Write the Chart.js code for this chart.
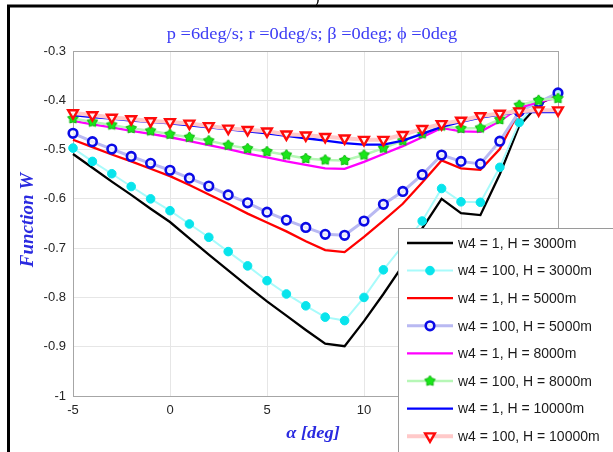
<!DOCTYPE html>
<html>
<head>
<meta charset="utf-8">
<script src="https://cdn.jsdelivr.net/npm/chart.js@4.4.1/dist/chart.umd.min.js"></script>
<style>
  html, body { margin: 0; padding: 0; background: #fff; overflow: hidden; }
  #wrap { position: relative; width: 613px; height: 452px; }
</style>
</head>
<body>
<div id="wrap"><canvas id="chart" width="613" height="452"></canvas></div>
<script>
// angle of attack, deg
const alpha = [-5, -4, -3, -2, -1, 0, 1, 2, 3, 4, 5, 6, 7, 8, 9, 10, 11, 12, 13, 14, 15, 16, 17, 18, 19, 20];

const w1H3000 = [-0.509, -0.537, -0.565, -0.592, -0.620, -0.647, -0.680, -0.713, -0.745, -0.777, -0.808, -0.837, -0.866, -0.894, -0.899,
    -0.848, -0.793, -0.735, -0.660, -0.600, -0.629, -0.633, -0.550, -0.452, -0.408, -0.388];
const w100H3000 = [-0.497, -0.524, -0.549, -0.575, -0.600, -0.624, -0.651, -0.678, -0.707, -0.736, -0.766, -0.793, -0.817, -0.840, -0.847,
    -0.800, -0.744, -0.695, -0.645, -0.579, -0.606, -0.607, -0.536, -0.445, -0.403, -0.386];
const w1H5000 = [-0.480, -0.495, -0.510, -0.524, -0.539, -0.554, -0.572, -0.591, -0.610, -0.630, -0.648, -0.666, -0.686, -0.704, -0.708,
    -0.677, -0.644, -0.610, -0.567, -0.522, -0.538, -0.541, -0.499, -0.421, -0.402, -0.393];
const w100H5000 = [-0.467, -0.484, -0.499, -0.514, -0.528, -0.542, -0.558, -0.574, -0.592, -0.608, -0.627, -0.643, -0.658, -0.672, -0.674,
    -0.645, -0.611, -0.585, -0.551, -0.511, -0.524, -0.529, -0.483, -0.423, -0.404, -0.385];
const w1H8000 = [-0.442, -0.449, -0.455, -0.462, -0.468, -0.475, -0.483, -0.491, -0.499, -0.508, -0.516, -0.524, -0.531, -0.538, -0.539,
    -0.525, -0.509, -0.493, -0.475, -0.456, -0.463, -0.464, -0.442, -0.415, -0.404, -0.394];
const w100H8000 = [-0.437, -0.444, -0.450, -0.457, -0.462, -0.469, -0.475, -0.482, -0.491, -0.498, -0.504, -0.511, -0.518, -0.521, -0.522,
    -0.511, -0.497, -0.482, -0.468, -0.452, -0.457, -0.456, -0.439, -0.410, -0.400, -0.396];
const w1H10000 = [-0.430, -0.434, -0.437, -0.441, -0.444, -0.447, -0.451, -0.455, -0.459, -0.463, -0.467, -0.472, -0.477, -0.482, -0.487,
    -0.490, -0.490, -0.482, -0.468, -0.454, -0.444, -0.435, -0.429, -0.424, -0.424, -0.424];
const w100H10000 = [-0.426, -0.430, -0.435, -0.438, -0.442, -0.444, -0.447, -0.452, -0.457, -0.460, -0.463, -0.469, -0.471, -0.474, -0.477,
    -0.480, -0.480, -0.470, -0.458, -0.448, -0.441, -0.432, -0.427, -0.422, -0.420, -0.420];

const seriesLabels = [
    'w4 = 1, H = 3000m', 'w4 = 100, H = 3000m',
    'w4 = 1, H = 5000m', 'w4 = 100, H = 5000m',
    'w4 = 1, H = 8000m', 'w4 = 100, H = 8000m',
    'w4 = 1, H = 10000m', 'w4 = 100, H = 10000m'
];
const seriesValues = [w1H3000, w100H3000, w1H5000, w100H5000, w1H8000, w100H8000, w1H10000, w100H10000];

const xTicks = [-5, 0, 5, 10, 15, 20];
const yTicks = [-0.3, -0.4, -0.5, -0.6, -0.7, -0.8, -0.9, -1];

const titleText = 'p =6deg/s; r =0deg/s; \u03b2 =0deg; \u03d5 =0deg';
const xLabel = '\u03b1 [deg]';
const yLabel = 'Function W';

// -------------------------------------------------------------
// marker images
// -------------------------------------------------------------
function makeStar(fill, edge, r) {
    const c = document.createElement('canvas');
    const s = Math.ceil(r * 2 + 4);
    c.width = s; c.height = s;
    const g = c.getContext('2d');
    g.translate(s / 2, s / 2);
    g.beginPath();
    for (let i = 0; i < 10; i++) {
        const rr = i % 2 === 0 ? r : r * 0.62;
        const a = -Math.PI / 2 + i * Math.PI / 5;
        g.lineTo(Math.cos(a) * rr, Math.sin(a) * rr);
    }
    g.closePath();
    g.fillStyle = fill;
    g.fill();
    g.strokeStyle = edge;
    g.lineWidth = 1;
    g.stroke();
    return c;
}
const starImg = makeStar('#19e619', '#0fb50f', 5.5);

// line + marker styles, in legend order
const styles = [
    { line: '#000000', width: 2.3 },
    { line: '#a8fbfb', width: 2, marker: 'circle', mColor: '#08e4ec', mFill: '#08e4ec', radius: 4.3, mWidth: 1 },
    { line: '#ff0000', width: 2.3 },
    { line: '#b9b9f2', width: 3, marker: 'circle', mColor: '#0a0ae6', mFill: 'rgba(255,255,255,0.7)', radius: 4.3, mWidth: 2.6 },
    { line: '#ff00ff', width: 2.3 },
    { line: '#b6f7b6', width: 2.5, marker: starImg, radius: 5.5 },
    { line: '#0000ff', width: 2.3 },
    { line: '#ffc9c9', width: 4, marker: 'triangle', mColor: '#ff0a0a', mFill: 'rgba(255,255,255,0.8)', radius: 5.6, mWidth: 2.4, rot: 180 }
];

const datasets = seriesValues.map((vals, i) => {
    const st = styles[i];
    return {
        label: seriesLabels[i],
        data: alpha.map((a, k) => ({ x: a, y: vals[k] })),
        borderColor: st.line,
        borderWidth: st.width,
        backgroundColor: st.mFill || st.line,
        pointStyle: st.marker || 'circle',
        pointRadius: st.marker ? st.radius : 0,
        pointBorderColor: st.mColor || st.line,
        pointBackgroundColor: st.mFill || st.line,
        pointBorderWidth: st.mWidth || 1,
        pointRotation: st.rot || 0,
        tension: 0,
        clip: false,
        order: seriesValues.length - i
    };
});

// -------------------------------------------------------------
// decorations: frame, title, axis labels, plot box, legend
// -------------------------------------------------------------
function drawMarker(ctx, st, x, y) {
    if (!st.marker) return;
    if (st.marker instanceof HTMLCanvasElement) {
        ctx.drawImage(st.marker, x - st.marker.width / 2, y - st.marker.height / 2);
        return;
    }
    ctx.save();
    ctx.lineWidth = st.mWidth;
    ctx.strokeStyle = st.mColor;
    ctx.fillStyle = st.mFill;
    ctx.beginPath();
    if (st.marker === 'circle') {
        ctx.arc(x, y, st.radius, 0, Math.PI * 2);
    } else {
        const r = st.radius;
        ctx.moveTo(x - r * 0.87, y - r * 0.5);
        ctx.lineTo(x + r * 0.87, y - r * 0.5);
        ctx.lineTo(x, y + r);
        ctx.closePath();
    }
    ctx.fill();
    ctx.stroke();
    ctx.restore();
}

const decorPlugin = {
    id: 'decor',
    beforeDatasetsDraw(chart) {
        const { ctx, chartArea: a } = chart;
        ctx.save();
        ctx.strokeStyle = '#a6a6a6';
        ctx.lineWidth = 1;
        ctx.strokeRect(a.left + 0.5, a.top + 0.5, a.right - a.left, a.bottom - a.top);
        ctx.restore();
    },
    afterDraw(chart) {
        const { ctx } = chart;
        ctx.save();

        // outer figure frame
        ctx.strokeStyle = '#000';
        ctx.lineWidth = 3;
        ctx.strokeRect(8.5, 6, 700, 500);

        ctx.fillStyle = '#000';
        ctx.font = '16px "Liberation Serif", serif';
        ctx.textAlign = 'center';
        ctx.textBaseline = 'alphabetic';
        ctx.fillText(')', 317, 3);

        // title
        ctx.fillStyle = '#3c3cf5';
        ctx.save();
        ctx.translate(312, 39);
        ctx.scale(1.08, 1);
        ctx.font = '17px "Liberation Serif", serif';
        ctx.fillText(titleText, 0, 0);
        ctx.restore();

        // x label
        ctx.fillStyle = '#2a2ae0';
        ctx.save();
        ctx.translate(313, 438);
        ctx.scale(1.08, 1);
        ctx.font = 'italic bold 17px "Liberation Serif", serif';
        ctx.fillText(xLabel, 0, 0);
        ctx.restore();

        // y label
        ctx.save();
        ctx.translate(33, 220);
        ctx.rotate(-Math.PI / 2);
        ctx.font = 'italic bold 19px "Liberation Serif", serif';
        ctx.fillText(yLabel, 0, 0);
        ctx.restore();

        // legend box
        const lx = 398, ly = 228;
        ctx.fillStyle = '#fff';
        ctx.fillRect(lx, ly, 300, 300);
        ctx.strokeStyle = '#9a9a9a';
        ctx.lineWidth = 1;
        ctx.strokeRect(lx + 0.5, ly + 0.5, 300, 300);

        ctx.font = '14px "Liberation Sans", Arial, sans-serif';
        ctx.textAlign = 'left';
        ctx.textBaseline = 'middle';
        seriesLabels.forEach((lab, i) => {
            const st = styles[i];
            const y = 243 + i * 27.6;
            ctx.strokeStyle = st.line;
            ctx.lineWidth = st.width;
            ctx.beginPath();
            ctx.moveTo(407, y);
            ctx.lineTo(453, y);
            ctx.stroke();
            drawMarker(ctx, st, 430, y);
            ctx.fillStyle = '#1a1a1a';
            ctx.fillText(lab, 458, y + 1);
        });

        ctx.restore();
    }
};

const ctx = document.getElementById('chart').getContext('2d');
new Chart(ctx, {
    type: 'line',
    data: { datasets: datasets },
    options: {
        responsive: false,
        animation: false,
        events: [],
        layout: { padding: { left: 0, right: 55, top: 51, bottom: 0 } },
        plugins: {
            legend: { display: false },
            title: { display: false },
            tooltip: { enabled: false }
        },
        scales: {
            x: {
                type: 'linear',
                min: alpha[0],
                max: alpha[alpha.length - 1],
                afterFit: (s) => { s.height = 56; },
                afterBuildTicks: (s) => { s.ticks = xTicks.map(v => ({ value: v })); },
                grid: { color: '#e6e6e6', drawTicks: false },
                border: { display: false },
                ticks: {
                    padding: 7,
                    color: '#262626',
                    font: { family: '"Liberation Sans", Arial, sans-serif', size: 13 }
                }
            },
            y: {
                type: 'linear',
                min: -1,
                max: -0.3,
                afterFit: (s) => { s.width = 73; },
                afterBuildTicks: (s) => { s.ticks = yTicks.map(v => ({ value: v })); },
                grid: { color: '#e6e6e6', drawTicks: false },
                border: { display: false },
                ticks: {
                    padding: 7,
                    color: '#262626',
                    font: { family: '"Liberation Sans", Arial, sans-serif', size: 13 },
                    callback: (v) => String(Math.round(v * 10) / 10)
                }
            }
        }
    },
    plugins: [decorPlugin]
});
</script>
</body>
</html>
